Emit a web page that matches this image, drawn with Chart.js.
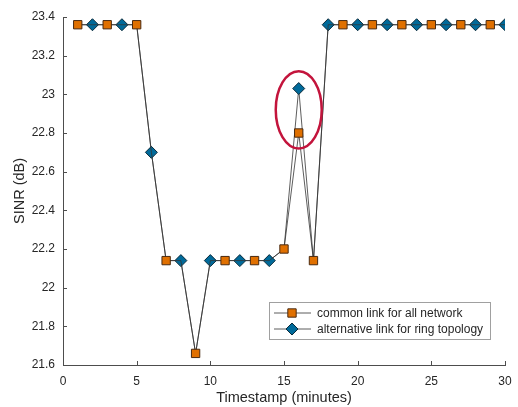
<!DOCTYPE html>
<html>
<head>
<meta charset="utf-8">
<script src="https://cdn.jsdelivr.net/npm/chart.js@4/dist/chart.umd.min.js"></script>
<style>
    html, body { margin: 0; padding: 0; background: #fff; }
    #wrap { width: 518px; height: 407px; }
</style>
</head>
<body>
<div id="wrap"><canvas id="sinrChart" width="518" height="407"></canvas></div>
<script>
// valores
const timestamps = [1, 2, 3, 4, 5, 6, 7, 8, 9, 10, 11, 12, 13, 14, 15, 16, 17, 18, 19, 20, 21, 22, 23, 24, 25, 26, 27, 28, 29, 30];
const commonLink = [23.36, 23.36, 23.36, 23.36, 23.36, 22.70, 22.14, 22.14, 21.66, 22.14, 22.14, 22.14, 22.14, 22.14, 22.20, 22.80, 22.14, 23.36, 23.36, 23.36, 23.36, 23.36, 23.36, 23.36, 23.36, 23.36, 23.36, 23.36, 23.36, 23.36];
const ringLink = [23.36, 23.36, 23.36, 23.36, 23.36, 22.70, 22.14, 22.14, 21.66, 22.14, 22.14, 22.14, 22.14, 22.14, 22.20, 23.03, 22.14, 23.36, 23.36, 23.36, 23.36, 23.36, 23.36, 23.36, 23.36, 23.36, 23.36, 23.36, 23.36, 23.36];
// em quais timestamps cada série mostra o marcador
const commonMarkerAt = [1, 3, 5, 7, 9, 11, 13, 15, 16, 17, 19, 21, 23, 25, 27, 29];
const ringMarkerAt = [2, 4, 6, 8, 10, 12, 14, 16, 18, 20, 22, 24, 26, 28, 30];
const seriesNames = ['common link for all network', 'alternative link for ring topology'];
const xTicks = [0, 5, 10, 15, 20, 25, 30];
const yTicks = [21.6, 21.8, 22, 22.2, 22.4, 22.6, 22.8, 23, 23.2, 23.4];

const orange = '#E07000';
const blue = '#006A9A';
const textColor = '#262626';
const fontFamily = "'Liberation Sans', Arial, Helvetica, sans-serif";

const toPoints = (ys) => timestamps.map((t, i) => ({ x: t, y: ys[i] }));
const radiiFor = (markerAt, r) => timestamps.map(t => markerAt.includes(t) ? r : 0);

// ticks para dentro, como no MATLAB
const innerTicks = {
    id: 'innerTicks',
    afterDraw(chart) {
        const { ctx, chartArea, scales } = chart;
        ctx.save();
        ctx.strokeStyle = '#4d4d4d';
        ctx.lineWidth = 1;
        ctx.beginPath();
        xTicks.forEach(v => {
            const px = Math.round(scales.x.getPixelForValue(v)) + 0.5;
            ctx.moveTo(px, chartArea.bottom);
            ctx.lineTo(px, chartArea.bottom - 4);
        });
        yTicks.forEach(v => {
            const py = Math.round(scales.y.getPixelForValue(v)) + 0.5;
            ctx.moveTo(chartArea.left, py);
            ctx.lineTo(chartArea.left + 4, py);
        });
        ctx.stroke();
        ctx.restore();
    }
};

// elipse vermelha destacando o timestamp 16
const highlight = {
    id: 'highlight',
    afterDatasetsDraw(chart) {
        const { ctx, scales } = chart;
        const cx = scales.x.getPixelForValue(16);
        const cy = scales.y.getPixelForValue(22.92);
        const rx = Math.abs(scales.x.getPixelForValue(16 + 1.56) - cx);
        const ry = Math.abs(scales.y.getPixelForValue(22.92 + 0.2) - cy);
        ctx.save();
        ctx.strokeStyle = '#C3143C';
        ctx.lineWidth = 2.5;
        ctx.beginPath();
        ctx.ellipse(cx, cy, rx, ry, 0, 0, Math.PI * 2);
        ctx.stroke();
        ctx.restore();
    }
};

// legenda dentro da área do gráfico
const boxLegend = {
    id: 'boxLegend',
    afterDraw(chart) {
        const { ctx } = chart;
        const x0 = 269.5, y0 = 302.5, w = 221, h = 37;
        ctx.save();
        ctx.fillStyle = '#fff';
        ctx.fillRect(x0, y0, w, h);
        ctx.strokeStyle = '#a0a0a0';
        ctx.lineWidth = 1;
        ctx.strokeRect(x0, y0, w, h);
        ctx.font = `12px ${fontFamily}`;
        ctx.textBaseline = 'middle';
        chart.data.datasets.forEach((ds, i) => {
            const y = 313 + i * 16;
            ctx.strokeStyle = '#333';
            ctx.lineWidth = 0.8;
            ctx.beginPath();
            ctx.moveTo(274, y);
            ctx.lineTo(311, y);
            ctx.stroke();
            ctx.fillStyle = ds.backgroundColor;
            ctx.strokeStyle = ds.pointBorderColor;
            ctx.lineWidth = 1;
            Chart.helpers.drawPoint(ctx, { pointStyle: ds.pointStyle, radius: ds.legendRadius, borderWidth: 1 }, 292, y);
            ctx.fillStyle = textColor;
            ctx.fillText(ds.label, 317, y + 0.5);
        });
        ctx.restore();
    }
};

new Chart(document.getElementById('sinrChart'), {
    type: 'line',
    data: {
        datasets: [
            {
                label: seriesNames[0],
                data: toPoints(commonLink),
                borderColor: '#333',
                borderWidth: 0.8,
                backgroundColor: orange,
                pointBackgroundColor: orange,
                pointBorderColor: '#4a2a10',
                pointBorderWidth: 1,
                pointStyle: 'rect',
                pointRadius: radiiFor(commonMarkerAt, 5.9),
                legendRadius: 5.9,
                pointHoverRadius: 0,
                tension: 0
            },
            {
                label: seriesNames[1],
                data: toPoints(ringLink),
                borderColor: '#333',
                borderWidth: 0.8,
                backgroundColor: blue,
                pointBackgroundColor: blue,
                pointBorderColor: '#0a2a3a',
                pointBorderWidth: 1,
                pointStyle: 'rectRot',
                pointRadius: radiiFor(ringMarkerAt, 6),
                legendRadius: 6,
                pointHoverRadius: 0,
                tension: 0
            }
        ]
    },
    options: {
        responsive: false,
        animation: false,
        events: [],
        layout: { padding: { left: 0, right: 13, top: 17, bottom: 0 } },
        plugins: {
            legend: { display: false },
            tooltip: { enabled: false }
        },
        scales: {
            x: {
                type: 'linear',
                min: 0,
                max: 30,
                afterFit: (s) => { s.height = 42; },
                afterBuildTicks: (s) => { s.ticks = xTicks.map(v => ({ value: v })); },
                grid: { display: false },
                border: { display: true, color: '#4d4d4d', width: 1 },
                ticks: { color: textColor, font: { family: fontFamily, size: 12 }, padding: 1.5, maxRotation: 0, callback: (v) => String(v) },
                title: { display: true, text: 'Timestamp (minutes)', color: textColor, font: { family: fontFamily, size: 14.5 }, padding: { top: 0, bottom: 0 } }
            },
            y: {
                type: 'linear',
                min: 21.6,
                max: 23.4,
                afterFit: (s) => { s.width = 63; },
                afterBuildTicks: (s) => { s.ticks = yTicks.map(v => ({ value: v })); },
                grid: { display: false },
                border: { display: true, color: '#4d4d4d', width: 1 },
                ticks: { color: textColor, font: { family: fontFamily, size: 12 }, padding: 0, callback: (v) => String(+v.toFixed(1)) },
                title: { display: true, text: 'SINR (dB)', color: textColor, font: { family: fontFamily, size: 14.5 }, padding: { top: 11, bottom: 0 } }
            }
        }
    },
    plugins: [innerTicks, highlight, boxLegend]
});
</script>
</body>
</html>
